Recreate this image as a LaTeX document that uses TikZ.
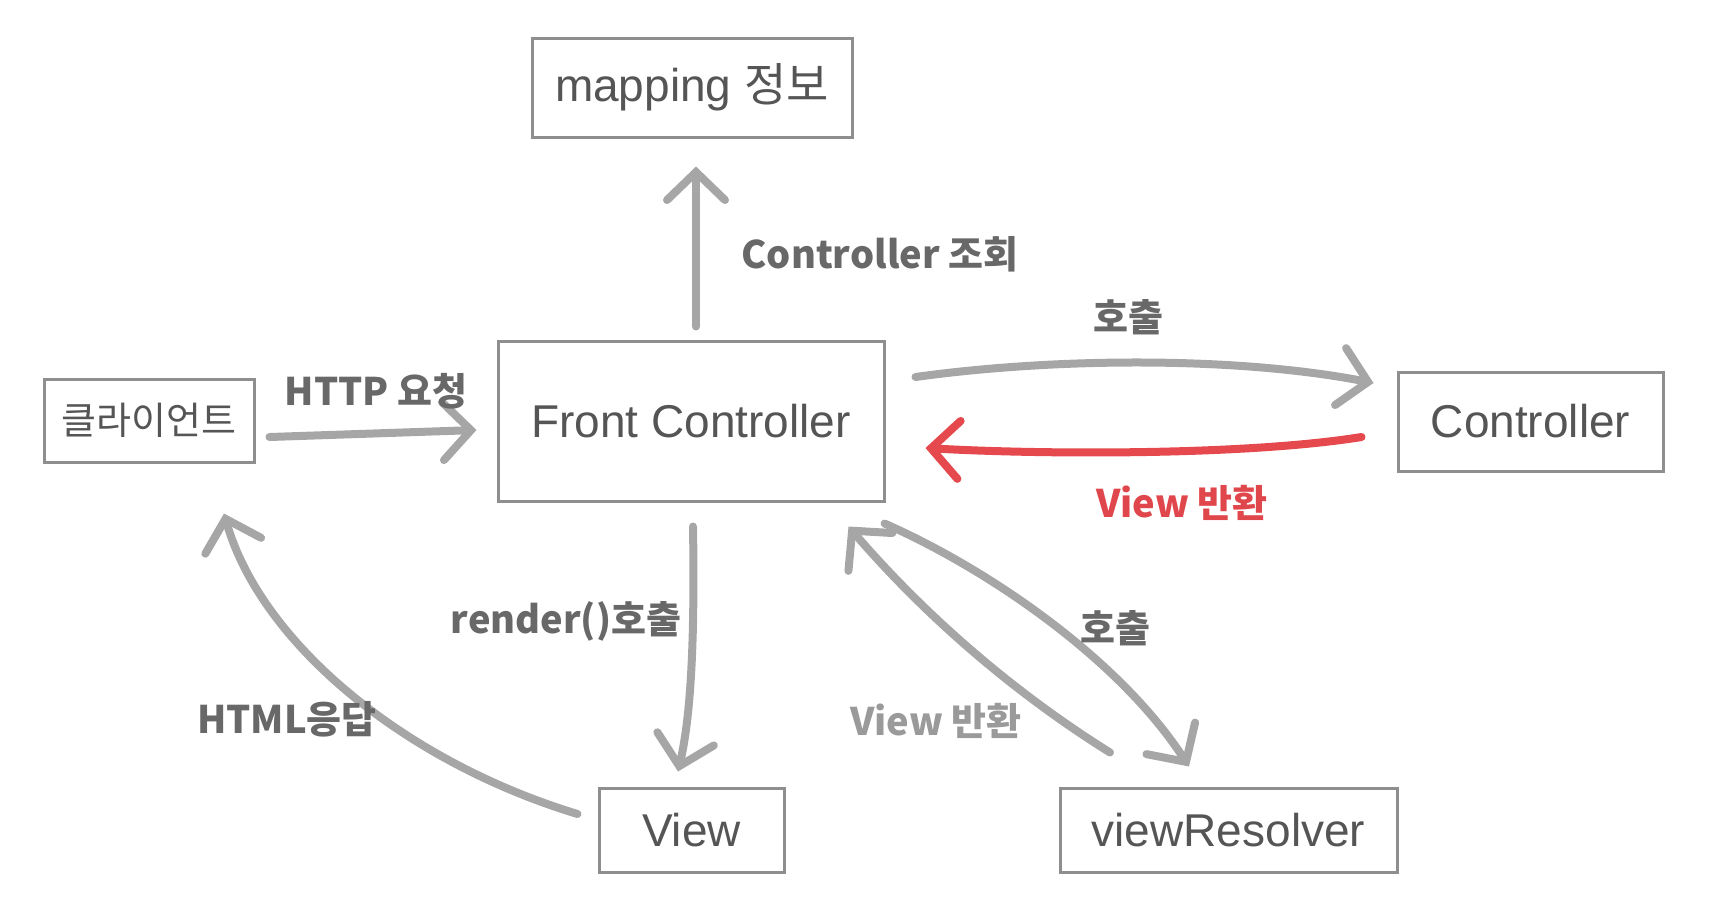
\documentclass[tikz,border=0pt]{standalone}
\usepackage{fontspec}
\setmainfont{Liberation Sans}
\newfontfamily\kr{Noto Sans CJK KR}
\usetikzlibrary{arrows.meta,calc}
\definecolor{boxline}{HTML}{8E8E8E}
\definecolor{boxtext}{HTML}{555555}
\definecolor{pencil}{HTML}{A6A6A6}
\definecolor{hand}{HTML}{686868}
\definecolor{handlight}{HTML}{9A9A9A}
\definecolor{handred}{HTML}{E0474C}
\definecolor{pencilred}{HTML}{E5484D}
\begin{document}
\begin{tikzpicture}[x=1pt,y=-1pt,
  box/.style={draw=boxline, line width=3pt, text=boxtext, inner sep=0pt,
    font=\fontsize{46}{50}\selectfont},
  arr/.style={draw=pencil, line width=8pt, line cap=round,
    -{Straight Barb[length=28pt,width=58pt,line cap=round]}},
  redarr/.style={arr, draw=pencilred},
  lbl/.style={text=hand, inner sep=0pt, font=\kr\bfseries\fontsize{38}{40}\selectfont},
]
\useasboundingbox (0,0) rectangle (1714,922);
% boxes
\node[box, minimum width=320pt, minimum height=99pt] (map) at (692,87.5) {mapping {\kr 정보}};
\node[box, minimum width=210pt, minimum height=83pt, font=\kr\fontsize{38}{40}\selectfont] (client) at (149,420.5) {클라이언트};
\node[box, minimum width=386pt, minimum height=160pt] (fc) at (691,421) {Front Controller};
\node[box, minimum width=265pt, minimum height=99pt] (ctrl) at (1530.5,421.5) {Controller};
\node[box, minimum width=185pt, minimum height=84pt] (view) at (691.5,830) {View};
\node[box, minimum width=337pt, minimum height=84pt] (vr) at (1228.5,830) {viewResolver};
% connectors
\draw[arr] ($(fc.north)+(5,-13)$) -- ($(map.south)+(4,28)$);
\draw[arr] ($(client.east)+(14,16.5)$) -- ($(fc.west)+(-20,9)$);
\draw[arr] ($(fc.east)+(30,-44)$) .. controls (1060,357) and (1240,357) .. ($(ctrl.west)+(-23,-38.5)$);
\draw[redarr] ($(ctrl.west)+(-35,15.5)$) .. controls (1250,455) and (1050,455) .. ($(fc.east)+(40,27)$);
\draw[arr] ($(fc.south)+(2,24)$) .. controls (695,650) and (690,720) .. ($(view.north)+(-13.5,-15)$);
\draw[arr] ($(view.west)+(-20,-16)$) .. controls (400,760) and (260,640) .. ($(client.south)+(75,50)$);
\draw[arr] ($(fc.south east)+(-1,21)$) .. controls (990,570) and (1120,660) .. ($(vr.north)+(-39.5,-20)$);
\draw[arr] ($(vr.north)+(-118.5,-34)$) .. controls (1010,690) and (923,613) .. ($(fc.south east)+(-37,24)$);
% labels
\node[lbl] (l1) at (880,254) {Controller 조회};
\node[lbl] (l2) at (376,391) {HTTP 요청};
\node[lbl] (l3) at (1128,317) {호출};
\node[lbl, text=handred] (l4) at (1182,503) {View 반환};
\node[lbl] (l5) at (566,621) {render()호출};
\node[lbl] (l6) at (287,719) {HTML응답};
\node[lbl] (l7) at (1115,628) {호출};
\node[lbl, text=handlight] (l8) at (936,721) {View 반환};
\end{tikzpicture}
\end{document}
